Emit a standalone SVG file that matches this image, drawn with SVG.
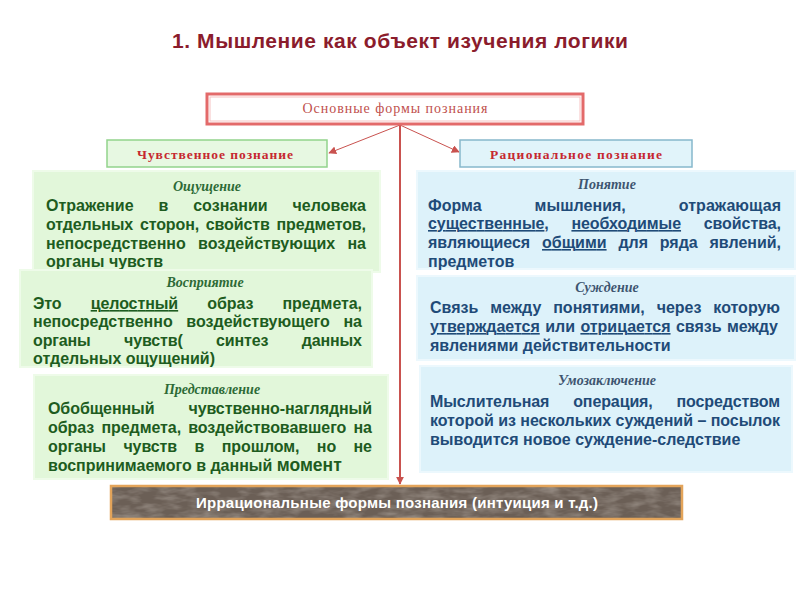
<svg xmlns="http://www.w3.org/2000/svg" width="800" height="600" viewBox="0 0 800 600">
<style>
.title{font-family:"Liberation Sans",Arial,sans-serif;font-weight:bold;font-size:21px;fill:#8b1c2c}
.top{font-family:"Liberation Serif","Times New Roman",serif;font-size:14px;fill:#c0504d}
.hdr{font-family:"Liberation Serif","Times New Roman",serif;font-weight:bold;font-size:13.5px;fill:#c62830}
.gbox{fill:#e2f7da;stroke:#eefbe9;stroke-width:2}
.bbox{fill:#ddf2fa;stroke:#ecf8fd;stroke-width:2}
.gt{font-family:"Liberation Serif","Times New Roman",serif;font-style:italic;font-weight:bold;font-size:14px;fill:#2d6a36;text-anchor:middle}
.bt{font-family:"Liberation Serif","Times New Roman",serif;font-style:italic;font-weight:bold;font-size:14px;fill:#3d5570;text-anchor:middle}
.g{font-family:"Liberation Sans",Arial,sans-serif;font-weight:bold;font-size:16px;fill:#1d5c20}
.b{font-family:"Liberation Sans",Arial,sans-serif;font-weight:bold;font-size:16px;fill:#1f4b78}
.u{text-decoration:underline}
.conn{stroke:#c9524f;fill:none}
</style>
<defs>
<marker id="ah" viewBox="0 0 10 10" refX="9" refY="5" markerWidth="8" markerHeight="8" markerUnits="userSpaceOnUse" orient="auto">
<path d="M0,0 L10,5 L0,10 z" fill="#c9524f"/>
</marker>
<filter id="marble" x="0" y="0" width="100%" height="100%">
<feTurbulence type="fractalNoise" baseFrequency="0.05 0.15" numOctaves="3" seed="7" result="n"/>
<feColorMatrix in="n" type="matrix" values="0 0 0 0 0.6  0 0 0 0 0.55  0 0 0 0 0.5  0 0 0 0.8 -0.3" result="c"/>
<feComposite in="c" in2="SourceGraphic" operator="in"/>
</filter>
</defs>
<rect x="0" y="0" width="800" height="600" fill="#ffffff"/>

<text class="title" x="400" y="48" text-anchor="middle" textLength="456" lengthAdjust="spacing">1. Мышление как объект изучения логики</text>

<g id="connectors">
<line class="conn" x1="400" y1="125" x2="400" y2="484" stroke-width="2" marker-end="url(#ah)"/>
<line class="conn" x1="400" y1="125" x2="329" y2="153" stroke-width="1" marker-end="url(#ah)"/>
<line class="conn" x1="400" y1="125" x2="459" y2="152" stroke-width="1" marker-end="url(#ah)"/>
</g>

<g id="top">
<rect x="207" y="94" width="376" height="30" fill="#ffffff" stroke="#e36a6a" stroke-width="3"/>
<rect x="210" y="97" width="370" height="24" fill="none" stroke="#f6c2c2" stroke-width="1"/>
<text class="top" x="395" y="113" text-anchor="middle" textLength="185" lengthAdjust="spacing">Основные формы познания</text>
</g>

<g id="sens-hdr">
<rect x="107" y="140" width="220" height="27" fill="#e7f8e2" stroke="#92d38c" stroke-width="1.5"/>
<text class="hdr" x="215" y="159" text-anchor="middle" textLength="156" lengthAdjust="spacing">Чувственное познание</text>
</g>

<g id="rat-hdr">
<rect x="460" y="140" width="232" height="27" fill="#e1f4fa" stroke="#86b8cc" stroke-width="1.5"/>
<text class="hdr" x="576" y="159" text-anchor="middle" textLength="172" lengthAdjust="spacing">Рациональное познание</text>
</g>

<g id="oshch">
<rect class="gbox" x="33" y="171" width="347" height="101"/>
<text class="gt" x="207" y="191">Ощущение</text>
<text class="g" x="46" y="211" word-spacing="20.4" textLength="320" lengthAdjust="spacing">Отражение в сознании человека</text>
<text class="g" x="46" y="230" word-spacing="2.5" textLength="320" lengthAdjust="spacing">отдельных сторон, свойств предметов,</text>
<text class="g" x="46" y="249" word-spacing="7.8" textLength="320" lengthAdjust="spacing">непосредственно воздействующих на</text>
<text class="g" x="46" y="267">органы чувств</text>
</g>

<g id="vospr">
<rect class="gbox" x="20" y="270" width="352" height="97"/>
<text class="gt" x="205" y="287">Восприятие</text>
<text class="g" x="33" y="309" word-spacing="24.8" textLength="329" lengthAdjust="spacing">Это <tspan class="u">целостный</tspan> образ предмета,</text>
<text class="g" x="33" y="327" word-spacing="9.2" textLength="329" lengthAdjust="spacing">непосредственно воздействующего на</text>
<text class="g" x="33" y="346" word-spacing="29.1" textLength="329" lengthAdjust="spacing">органы чувств( синтез данных</text>
<text class="g" x="33" y="364">отдельных ощущений)</text>
</g>

<g id="predst">
<rect class="gbox" x="34" y="375" width="354" height="104"/>
<text class="gt" x="212" y="394">Представление</text>
<text class="g" x="48" y="414" word-spacing="29.6" textLength="324" lengthAdjust="spacing">Обобщенный чувственно-наглядный</text>
<text class="g" x="48" y="433" word-spacing="2.8" textLength="324" lengthAdjust="spacing">образ предмета, воздействовавшего на</text>
<text class="g" x="48" y="452" word-spacing="13.1" textLength="324" lengthAdjust="spacing">органы чувств в прошлом, но не</text>
<text class="g" x="48" y="471">воспринимаемого в данный <tspan font-size="17.5">момент</tspan></text>
</g>

<g id="ponyatie">
<rect class="bbox" x="417" y="171" width="378" height="98"/>
<text class="bt" x="607" y="189">Понятие</text>
<text class="b" x="428" y="211" word-spacing="48.5" textLength="353" lengthAdjust="spacing">Форма мышления, отражающая</text>
<text class="b" x="428" y="229" word-spacing="18.3" textLength="353" lengthAdjust="spacing"><tspan class="u">существенные</tspan>, <tspan class="u">необходимые</tspan> свойства,</text>
<text class="b" x="428" y="248" word-spacing="7.4" textLength="353" lengthAdjust="spacing">являющиеся <tspan class="u">общими</tspan> для ряда явлений,</text>
<text class="b" x="428" y="267">предметов</text>
</g>

<g id="suzhdenie">
<rect class="bbox" x="417" y="276" width="378" height="84"/>
<text class="bt" x="607" y="292">Суждение</text>
<text class="b" x="430" y="313" word-spacing="7.5" textLength="350" lengthAdjust="spacing">Связь между понятиями, через которую</text>
<text class="b" x="430" y="332" word-spacing="1" textLength="348" lengthAdjust="spacing"><tspan class="u">утверждается</tspan> или <tspan class="u">отрицается</tspan> связь между</text>
<text class="b" x="430" y="351">явлениями действительности</text>
</g>

<g id="umozakl">
<rect class="bbox" x="420" y="366" width="372" height="106"/>
<text class="bt" x="607" y="385">Умозаключение</text>
<text class="b" x="430" y="407" word-spacing="19.5" textLength="350" lengthAdjust="spacing">Мыслительная операция, посредством</text>
<text class="b" x="430" y="426" textLength="350" lengthAdjust="spacing">которой из нескольких суждений – посылок</text>
<text class="b" x="430" y="445">выводится новое суждение-следствие</text>
</g>

<g id="irrational">
<rect x="111" y="486" width="571" height="33" fill="#6b5f56"/>
<rect x="111" y="486" width="571" height="33" fill="#6b5f56" filter="url(#marble)"/>
<rect x="111" y="486" width="571" height="33" fill="none" stroke="#e3a45a" stroke-width="2.5"/>
<text x="397" y="508" text-anchor="middle" font-family="Liberation Sans, Arial, sans-serif" font-weight="bold" font-size="15" fill="#ffffff" textLength="402" lengthAdjust="spacing">Иррациональные формы познания (интуиция и т.д.)</text>
</g>
</svg>
